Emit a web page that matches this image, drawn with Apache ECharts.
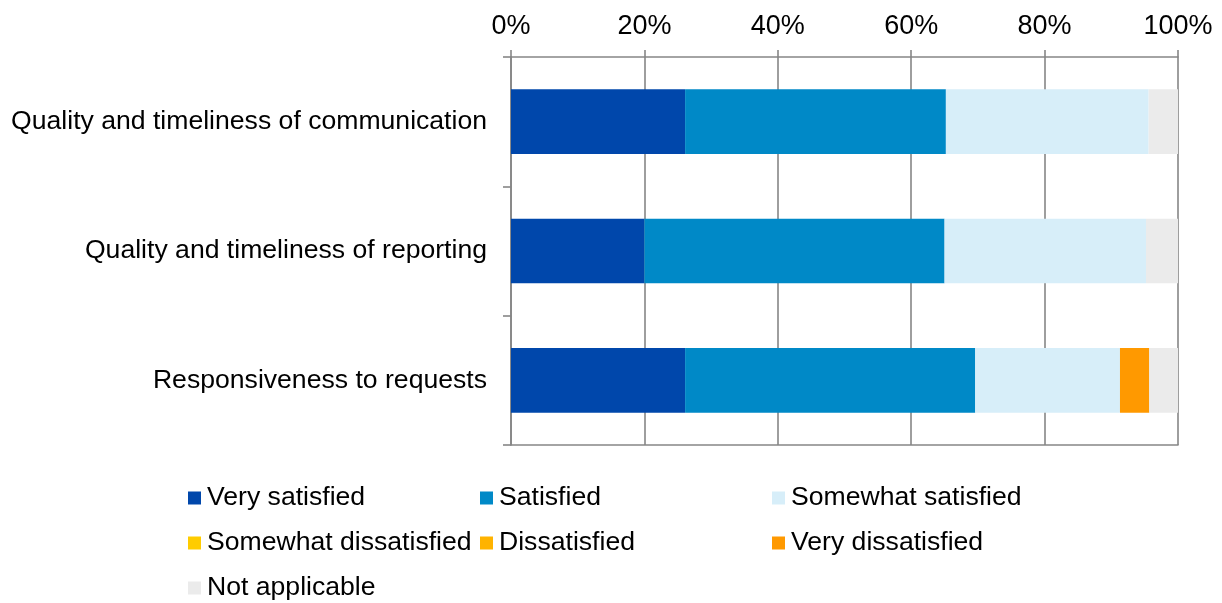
<!DOCTYPE html>
<html>
<head>
<meta charset="utf-8">
<script src="https://cdn.jsdelivr.net/npm/echarts@6/dist/echarts.min.js"></script>
<style>html,body{margin:0;padding:0;background:#fff}#c{width:1222px;height:603px}</style>
</head>
<body>
<div id="c"></div>
<script>
const categories = [
  'Quality and timeliness of communication',
  'Quality and timeliness of reporting',
  'Responsiveness to requests'
];
const seriesNames = ['Very satisfied', 'Satisfied', 'Somewhat satisfied', 'Somewhat dissatisfied', 'Dissatisfied', 'Very dissatisfied', 'Not applicable'];
const verySatisfied = [26.1, 20.0, 26.1];
const satisfied = [39.1, 45.0, 43.5];
const somewhatSatisfied = [30.4, 30.2, 21.7];
const somewhatDissatisfied = [0, 0, 0];
const dissatisfied = [0, 0, 0];
const veryDissatisfied = [0, 0, 4.4];
const notApplicable = [4.4, 4.8, 4.3];
const tickLabels = ['0%', '20%', '40%', '60%', '80%', '100%'];

const values = [verySatisfied, satisfied, somewhatSatisfied, somewhatDissatisfied, dissatisfied, veryDissatisfied, notApplicable];
const colors = ['#0047AB', '#0089C7', '#D7EEF9', '#FFCC00', '#FFB300', '#FF9900', '#EBEBEB'];

const font = 'Liberation Sans, Arial, sans-serif';
const legendPos = [
  [188, 483], [480, 483], [772, 483],
  [188, 528], [480, 528], [772, 528],
  [188, 573]
];

const chart = echarts.init(document.getElementById('c'));
chart.setOption({
  animation: false,
  grid: { left: 511, right: 44, top: 57, bottom: 158, containLabel: false },
  xAxis: [{
    type: 'value', position: 'top', min: 0, max: 100, interval: 20,
    axisLine: { show: true, lineStyle: { color: '#868686', width: 1.6 } },
    axisTick: { show: true, length: 7, lineStyle: { color: '#868686', width: 1.6 } },
    splitLine: { show: true, lineStyle: { color: '#868686', width: 1.6 } },
    axisLabel: {
      color: '#000', fontSize: 27, fontFamily: font, margin: 17,
      formatter: v => tickLabels[Math.round(v / 20)]
    }
  }, {
    type: 'value', position: 'bottom', min: 0, max: 100, interval: 20,
    axisLine: { show: true, lineStyle: { color: '#868686', width: 1.6 } },
    axisTick: { show: false }, axisLabel: { show: false }, splitLine: { show: false }
  }],
  yAxis: {
    type: 'category', data: categories, inverse: true,
    axisLine: { show: true, lineStyle: { color: '#868686', width: 1.6 } },
    axisTick: { show: true, length: 8, lineStyle: { color: '#868686', width: 1.6 } },
    axisLabel: { color: '#000', fontSize: 26.6, fontFamily: font, margin: 24 }
  },
  legend: seriesNames.map((n, i) => ({
    data: [n], left: legendPos[i][0], top: legendPos[i][1], padding: 0,
    icon: 'rect', itemWidth: 13, itemHeight: 13, itemGap: 0,
    textStyle: { color: '#000', fontSize: 26.6, fontFamily: font, lineHeight: 30, padding: [0, 0, 0, 1] },
    selectedMode: false
  })),
  series: seriesNames.map((n, i) => ({
    name: n, type: 'bar', stack: 'total', xAxisIndex: 0,
    data: values[i], barCategoryGap: '50%',
    itemStyle: { color: colors[i] }
  }))
});
</script>
</body>
</html>
